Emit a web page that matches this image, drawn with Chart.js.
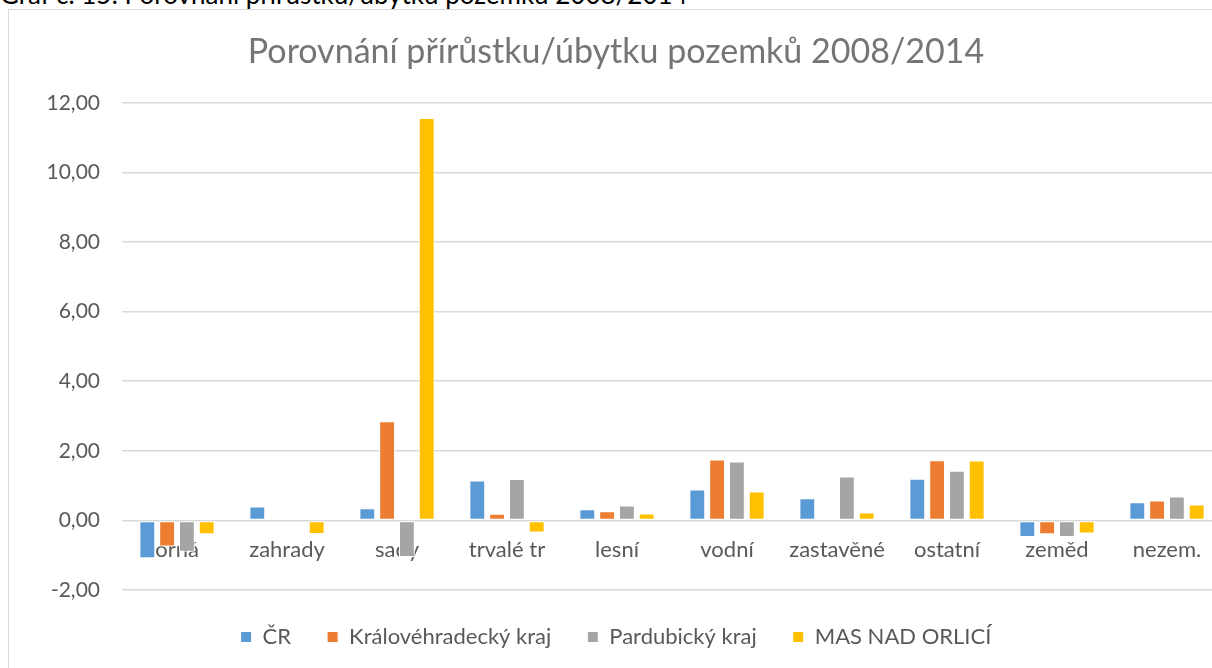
<!DOCTYPE html>
<html>
<head>
<meta charset="utf-8">
<script src="https://cdn.jsdelivr.net/npm/chart.js@4"></script>
<style>
  html, body { margin: 0; padding: 0; background: #fff; overflow: hidden; }
  body { width: 1212px; height: 668px; position: relative; }
  #caption { position: absolute; left: 0; top: -19px; font: 26px Lato, sans-serif; line-height: 26px; color: #000; white-space: nowrap; }
  #frame { position: absolute; left: 8px; top: 9px; width: 1300px; height: 700px; border: 1px solid #d9d9d9; }
  #wrap { position: absolute; left: 0; top: 0; width: 1222px; height: 668px; }
</style>
</head>
<body>
<div id="caption">Graf č. 15: Porovnání přírůstku/úbytku pozemků 2008/2014</div>
<div id="frame"></div>
<div id="wrap"><canvas id="landChart"></canvas></div>
<script>
const categories = ['orná', 'zahrady', 'sady', 'trvalé tr', 'lesní', 'vodní', 'zastavěné', 'ostatní', 'zeměd', 'nezem.'];

const cr          = [-1.09,  0.40,  0.35,  1.15, 0.32, 0.89, 0.64, 1.20, -0.48, 0.52];
const kralovehrad = [-0.75, -0.02,  2.85,  0.19, 0.26, 1.75, 0.00, 1.73, -0.40, 0.57];
const pardubicky  = [-0.90, -0.02, -1.05,  1.19, 0.43, 1.69, 1.26, 1.43, -0.48, 0.69];
const masOrlici   = [-0.40, -0.39, 11.56, -0.35, 0.20, 0.83, 0.23, 1.72, -0.38, 0.46];

const yTicks = [-2, 0, 2, 4, 6, 8, 10, 12];

const textColor = '#595959';
const fontFamily = 'Lato, sans-serif';

const ctx = document.getElementById('landChart').getContext('2d');

function series(label, data, color) {
    return {
        label: label,
        data: data,
        backgroundColor: color,
        borderColor: '#ffffff',
        borderWidth: 1,
        borderSkipped: false
    };
}

new Chart(ctx, {
    type: 'bar',
    data: {
        labels: categories,
        datasets: [
            series('ČR', cr, '#5B9BD5'),
            series('Královéhradecký kraj', kralovehrad, '#ED7D31'),
            series('Pardubický kraj', pardubicky, '#A5A5A5'),
            series('MAS NAD ORLICÍ', masOrlici, '#FFC000')
        ]
    },
    options: {
        responsive: true,
        maintainAspectRatio: false,
        animation: false,
        datasets: {
            bar: { categoryPercentage: 0.72, barPercentage: 0.8 }
        },
        layout: { padding: { left: 10, right: 0, top: 0, bottom: 10 } },
        plugins: {
            title: {
                display: true,
                text: 'Porovnání přírůstku/úbytku pozemků 2008/2014',
                color: '#757575',
                font: { family: fontFamily, size: 34, weight: 'normal', lineHeight: 1.2 },
                padding: { top: 32, bottom: 30 }
            },
            legend: {
                position: 'bottom',
                labels: {
                    color: textColor,
                    font: { family: fontFamily, size: 22 },
                    boxWidth: 11,
                    boxHeight: 11,
                    padding: 36
                }
            },
            tooltip: { enabled: false }
        },
        scales: {
            x: {
                position: { y: 0 },
                grid: { display: false },
                border: { display: false },
                ticks: {
                    color: textColor,
                    font: { family: fontFamily, size: 22 },
                    padding: 8,
                    maxRotation: 0,
                    autoSkip: false
                }
            },
            y: {
                min: -2,
                max: 12,
                afterBuildTicks: (scale) => {
                    scale.ticks = yTicks.map(v => ({ value: v }));
                },
                afterFit: (scale) => { scale.width = 112; },
                grid: { color: '#d9d9d9', lineWidth: 1.5, drawTicks: false },
                border: { display: false },
                ticks: {
                    color: textColor,
                    font: { family: fontFamily, size: 21 },
                    padding: 22,
                    callback: (v) => v.toFixed(2).replace('.', ',')
                }
            }
        }
    }
});
</script>
</body>
</html>
